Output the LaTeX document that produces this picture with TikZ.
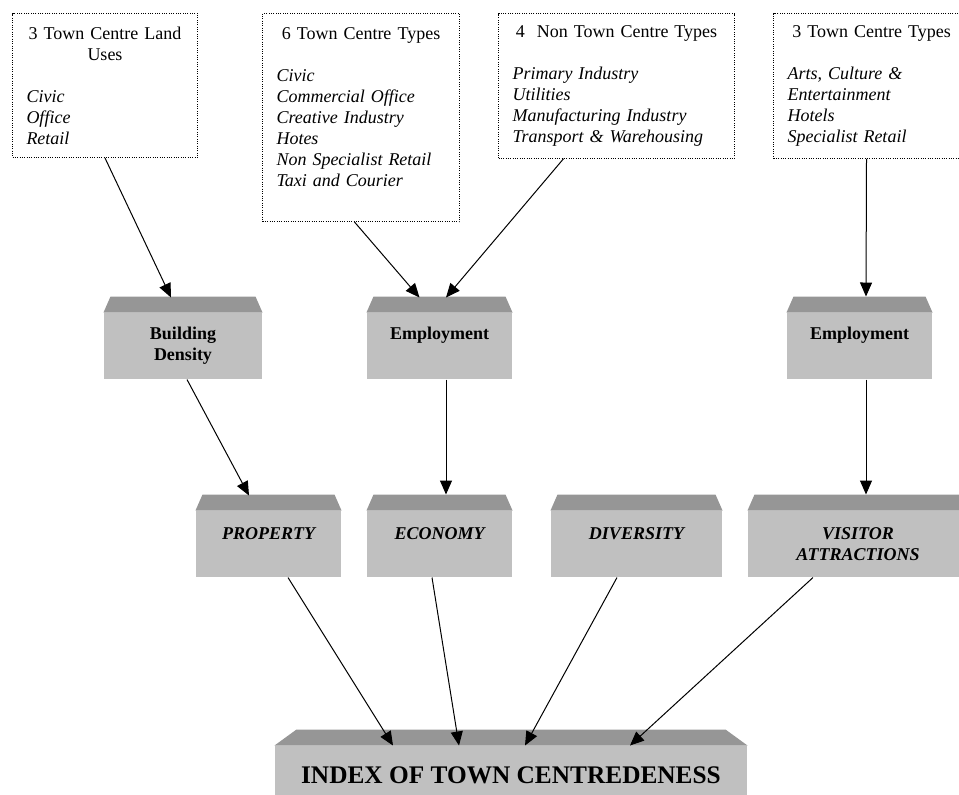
\documentclass[tikz,border=0pt]{standalone}
\usepackage{fontspec}
\setmainfont{Liberation Serif}
\usetikzlibrary{arrows.meta,calc}
\definecolor{facegrey}{RGB}{192,192,192}
\definecolor{topgrey}{RGB}{150,150,150}
\tikzset{every picture/.style={line width=0.75pt}}

\begin{document}
\begin{tikzpicture}[x=0.75pt,y=0.75pt,yscale=-1,xscale=1,
  listbox/.style={draw,densely dotted,anchor=north west,align=left,inner xsep=10.5pt,inner ysep=9pt,font=\fontsize{13.5}{15.75}\selectfont},
  facebox/.style={fill=facegrey,inner sep=0pt,minimum height=49.5pt,align=center,font=\fontsize{13.5}{15.75}\selectfont\bfseries},
  axisbox/.style={facebox,font=\fontsize{13.5}{15.75}\selectfont\bfseries\itshape},
  link/.style={-{Triangle[length=10.5pt,width=9pt]}}]
\useasboundingbox (0,0) rectangle (959,794);
\clip (0,0) rectangle (959,794);

% Dotted list boxes
\node[listbox,text width=117.75pt,minimum height=108pt] (landuse) at (12,13) {{\centering 3 Town Centre Land\\Uses\par}\mbox{}\par\itshape Civic\\Office\\Retail};
\node[listbox,text width=126.75pt,minimum height=156pt] (towntypes) at (262,13) {{\centering 6 Town Centre Types\par}\mbox{}\par\itshape Civic\\Commercial Office\\Creative Industry\\Hotes\\Non Specialist Retail\\Taxi and Courier\par\mbox{}};
\node[listbox,text width=156pt,minimum height=107.25pt] (nontown) at (498,13) {{\centering 4\ \ Non Town Centre Types\par}\mbox{}\par\itshape Primary Industry\\Utilities\\Manufacturing Industry\\Transport \& Warehousing};
\node[listbox,text width=126pt,minimum height=106.5pt] (visittypes) at (773,13) {{\centering 3 Town Centre Types\par}\mbox{}\par\itshape Arts, Culture \&\\Entertainment\\Hotels\\Specialist Retail};

% Indicator boxes
\node[facebox,minimum width=118.5pt] (bd) at (183,346) {Building\\Density};
\node[facebox,minimum width=108.75pt] (empa) at (439.5,346) {Employment\\\phantom{Employment}};
\node[facebox,minimum width=108.75pt] (empb) at (859.5,346) {Employment\\\phantom{Employment}};

% Theme boxes
\node[axisbox,minimum width=108.75pt] (prop) at (268.5,544) {PROPERTY\\\phantom{PROPERTY}};
\node[axisbox,minimum width=108.75pt] (econ) at (439.5,544) {ECONOMY\\\phantom{ECONOMY}};
\node[axisbox,minimum width=128.25pt] (div) at (636.5,544) {DIVERSITY\\\phantom{DIVERSITY}};
\node[axisbox,minimum width=165pt] (visit) at (858,544) {VISITOR\\ATTRACTIONS};

% Index box
\node[facebox,minimum width=354pt,minimum height=44.25pt,font=\fontsize{19}{22}\selectfont\bfseries] (index) at (511,775.5) {INDEX OF TOWN CENTREDENESS};

% Bevelled tops
\foreach \n/\d in {bd/7,empa/7,empb/7,prop/7,econ/7,div/7,visit/7,index/22}
  \fill[topgrey] (\n.north west) -- ($(\n.north west)+(\d,-16)$) -- ($(\n.north east)+(-\d,-16)$) -- (\n.north east) -- cycle;

% Arrows
\draw[link] (landuse.south) -- ($(bd.north)+(-12,-15)$);
\draw[link] ($(towntypes.south)+(-6.5,0)$) -- ($(empa.north)+(-20,-15)$);
\draw[link] ($(nontown.south)+(-53,0)$) -- ($(empa.north)+(6.5,-15)$);
\draw[link] ($(visittypes.south)+(-5,0)$) -- ($(empb.north)+(6.5,-16)$);
\draw[link] ($(bd.south)+(4,0)$) -- ($(prop.north)+(-19.5,-15)$);
\draw[link] ($(empa.south)+(6.5,0)$) -- ($(econ.north)+(6.5,-16)$);
\draw[link] ($(empb.south)+(6.5,0)$) -- ($(visit.north)+(8,-16)$);
\draw[link] ($(prop.south)+(19.5,0)$) -- ($(index.north)+(-118,0)$);
\draw[link] ($(econ.south)+(-7.5,0)$) -- ($(index.north)+(-52,0)$);
\draw[link] ($(div.south)+(-19.5,0)$) -- ($(index.north)+(14,0)$);
\draw[link] ($(visit.south)+(-45,0)$) -- ($(index.north)+(119,0)$);

\end{tikzpicture}
\end{document}
